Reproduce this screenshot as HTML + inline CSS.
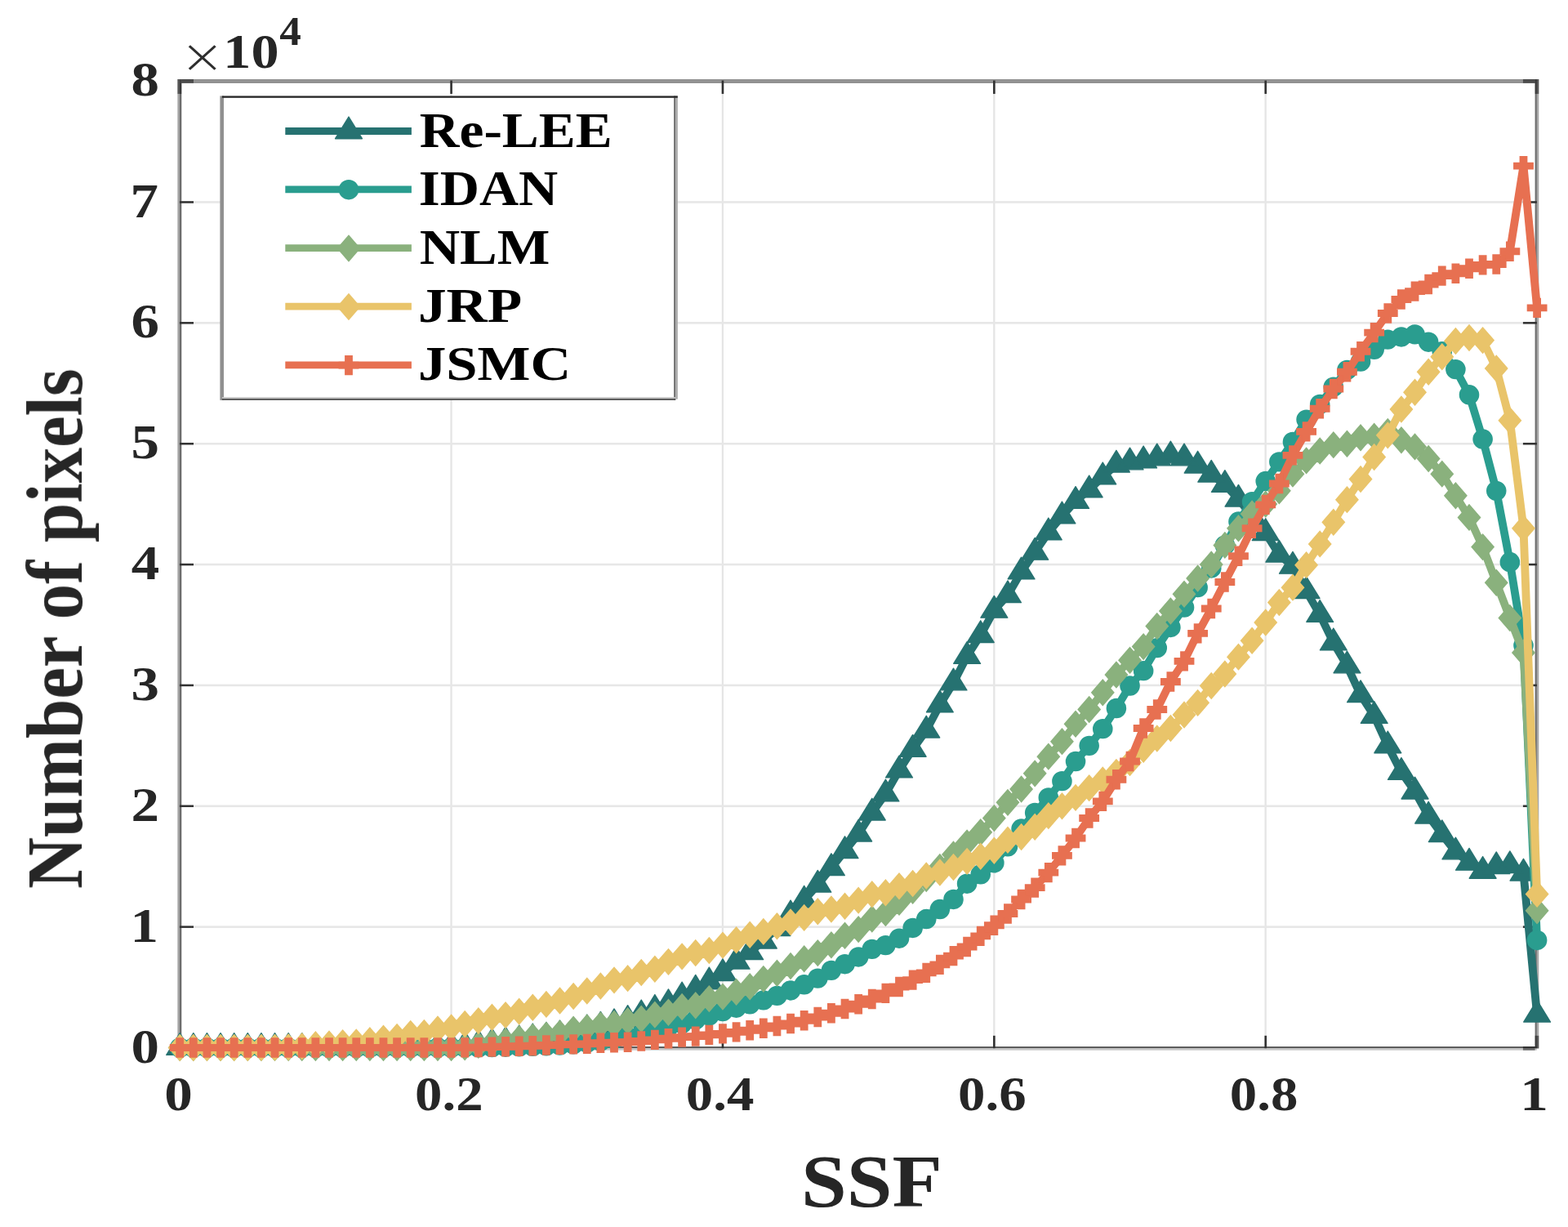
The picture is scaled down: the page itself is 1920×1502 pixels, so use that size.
<!DOCTYPE html>
<html lang="en"><head><meta charset="utf-8"><title>SSF histogram</title>
<style>html,body{margin:0;padding:0;background:#fff}body{width:1920px;height:1502px;overflow:hidden}svg{display:block}text{font-family:"Liberation Serif","DejaVu Serif",serif;font-weight:bold}.x{font-family:"DejaVu Sans Light","DejaVu Sans","Liberation Sans",sans-serif;font-weight:200}</style>
</head><body>
<svg width="1920" height="1502" viewBox="0 0 1920 1502" role="img" aria-label="Histogram of SSF values for five despeckling methods">
<rect width="1920" height="1502" fill="#fff"/>
<defs><filter id="soft" x="0" y="0" width="1920" height="1502" filterUnits="userSpaceOnUse"><feGaussianBlur stdDeviation="0.55"/></filter></defs>
<g filter="url(#soft)">
<g><rect x="551.38" y="99.6" width="2.3" height="1182.9" fill="#e5e5e5"/><rect x="883.76" y="99.6" width="2.3" height="1182.9" fill="#e5e5e5"/><rect x="1216.14" y="99.6" width="2.3" height="1182.9" fill="#e5e5e5"/><rect x="1548.52" y="99.6" width="2.3" height="1182.9" fill="#e5e5e5"/><rect x="220.2" y="1133.34" width="1661.9" height="2.6" fill="#e7e7e7"/><rect x="220.2" y="985.48" width="1661.9" height="2.6" fill="#e7e7e7"/><rect x="220.2" y="837.61" width="1661.9" height="2.6" fill="#e7e7e7"/><rect x="220.2" y="689.75" width="1661.9" height="2.6" fill="#e7e7e7"/><rect x="220.2" y="541.89" width="1661.9" height="2.6" fill="#e7e7e7"/><rect x="220.2" y="394.02" width="1661.9" height="2.6" fill="#e7e7e7"/><rect x="220.2" y="246.16" width="1661.9" height="2.6" fill="#e7e7e7"/></g>
<g>
<rect x="217.4" y="97" width="2.5" height="1186.4" fill="#a2a2a2"/>
<rect x="219.9" y="97" width="2.4" height="1186.4" fill="#6c6c6c"/>
<rect x="219.9" y="97" width="1662" height="2.4" fill="#8e8e8e"/>
<rect x="219.9" y="99.4" width="1662" height="2.3" fill="#808080"/>
<rect x="1879.6" y="97" width="2.3" height="1186.4" fill="#6c6c6c"/>
<rect x="1881.9" y="97" width="2.4" height="1186.4" fill="#a8a8a8"/>
<rect x="217.4" y="1281.1" width="1664.5" height="2.3" fill="#565656"/>
<rect x="217.4" y="1283.4" width="1664.5" height="2.3" fill="#c6c6c6"/>
</g>
<g><rect x="551.28" y="1267.8" width="2.6" height="15.4" fill="#303030"/><rect x="551.28" y="98.6" width="2.6" height="16.3" fill="#303030"/><rect x="883.66" y="1267.8" width="2.6" height="15.4" fill="#303030"/><rect x="883.66" y="98.6" width="2.6" height="16.3" fill="#303030"/><rect x="1216.04" y="1267.8" width="2.6" height="15.4" fill="#303030"/><rect x="1216.04" y="98.6" width="2.6" height="16.3" fill="#303030"/><rect x="1548.42" y="1267.8" width="2.6" height="15.4" fill="#303030"/><rect x="1548.42" y="98.6" width="2.6" height="16.3" fill="#303030"/><rect x="219.9" y="1133.39" width="17.1" height="2.5" fill="#303030"/><rect x="1864.9" y="1133.39" width="17" height="2.5" fill="#303030"/><rect x="219.9" y="985.52" width="17.1" height="2.5" fill="#303030"/><rect x="1864.9" y="985.52" width="17" height="2.5" fill="#303030"/><rect x="219.9" y="837.66" width="17.1" height="2.5" fill="#303030"/><rect x="1864.9" y="837.66" width="17" height="2.5" fill="#303030"/><rect x="219.9" y="689.8" width="17.1" height="2.5" fill="#303030"/><rect x="1864.9" y="689.8" width="17" height="2.5" fill="#303030"/><rect x="219.9" y="541.94" width="17.1" height="2.5" fill="#303030"/><rect x="1864.9" y="541.94" width="17" height="2.5" fill="#303030"/><rect x="219.9" y="394.07" width="17.1" height="2.5" fill="#303030"/><rect x="1864.9" y="394.07" width="17" height="2.5" fill="#303030"/><rect x="219.9" y="246.21" width="17.1" height="2.5" fill="#303030"/><rect x="1864.9" y="246.21" width="17" height="2.5" fill="#303030"/><rect x="217.4" y="97" width="4.9" height="17.9" fill="#000" fill-opacity="0.48"/><rect x="217.4" y="1267.8" width="4.9" height="15.6" fill="#000" fill-opacity="0.48"/><rect x="1879.6" y="97" width="4.7" height="17.9" fill="#000" fill-opacity="0.48"/><rect x="1879.6" y="1267.8" width="4.7" height="15.6" fill="#000" fill-opacity="0.48"/><rect x="222.3" y="97" width="14.7" height="4.7" fill="#000" fill-opacity="0.48"/><rect x="1864.9" y="97" width="14.7" height="4.7" fill="#000" fill-opacity="0.48"/><rect x="222.3" y="1281.1" width="14.7" height="4.6" fill="#000" fill-opacity="0.48"/><rect x="1864.9" y="1281.1" width="14.7" height="4.6" fill="#000" fill-opacity="0.48"/></g>
<g><polyline transform="scale(1.12 1)" points="196.61,1282.5 211.45,1282.5 226.28,1282.5 241.12,1282.5 255.96,1282.5 270.8,1282.5 285.64,1282.5 300.48,1282.5 315.31,1282.5 330.15,1282.5 344.99,1282.5 359.83,1282.49 374.67,1282.45 389.51,1282.38 404.34,1282.28 419.18,1282.15 434.02,1282 448.86,1281.8 463.7,1281.58 478.54,1281.32 493.37,1281.02 508.21,1280.1 523.05,1278.4 537.89,1276.59 552.73,1274.81 567.57,1272.89 582.41,1270.82 597.24,1269.19 612.08,1266.97 626.92,1263.28 641.76,1259.88 656.6,1256.18 671.44,1252.78 686.27,1248.42 701.11,1241.84 715.95,1235.33 730.79,1228.68 745.63,1219.95 760.47,1211.23 775.3,1201.91 790.14,1191.56 804.98,1177.22 819.82,1165.69 834.66,1152.09 849.5,1136.56 864.33,1119.85 879.17,1102.11 894.01,1083.18 908.85,1062.63 923.69,1041.63 938.53,1021.08 953.37,995.06 968.2,971.99 983.04,943.01 997.88,917.28 1012.72,894.07 1027.56,862.87 1042.4,835.96 1057.23,803.43 1072.07,777.55 1086.91,747.24 1101.75,728.75 1116.59,699.92 1131.43,676.26 1146.26,651.87 1161.1,631.9 1175.94,613.42 1190.78,599.82 1205.62,583.85 1220.46,569.06 1235.29,565.96 1250.13,563.89 1264.97,560.93 1279.81,557.97 1294.65,560.93 1309.49,570.1 1324.32,581.19 1339.16,593.46 1354,611.2 1368.84,631.9 1383.68,652.61 1398.52,679.22 1413.36,693.27 1428.19,723.58 1443.03,752.41 1457.87,786.86 1472.71,814.96 1487.55,850.74 1502.39,876.47 1517.22,912.84 1532.06,945.37 1546.9,969.03 1561.74,999.05 1576.58,1021.67 1591.42,1042.96 1606.25,1056.27 1621.09,1066.33 1635.93,1060.71 1650.77,1059.67 1665.61,1069.13 1680.45,1242.13" fill="none" stroke="#287271" stroke-width="8.8" stroke-linejoin="round" stroke-linecap="butt"/><path d="M220.2 1264.7L236.6 1291.4L203.8 1291.4ZM236.82 1264.7L253.22 1291.4L220.42 1291.4ZM253.44 1264.7L269.84 1291.4L237.04 1291.4ZM270.06 1264.7L286.46 1291.4L253.66 1291.4ZM286.68 1264.7L303.08 1291.4L270.28 1291.4ZM303.29 1264.7L319.69 1291.4L286.89 1291.4ZM319.91 1264.7L336.31 1291.4L303.51 1291.4ZM336.53 1264.7L352.93 1291.4L320.13 1291.4ZM353.15 1264.7L369.55 1291.4L336.75 1291.4ZM369.77 1264.7L386.17 1291.4L353.37 1291.4ZM386.39 1264.7L402.79 1291.4L369.99 1291.4ZM403.01 1264.69L419.41 1291.39L386.61 1291.39ZM419.63 1264.65L436.03 1291.35L403.23 1291.35ZM436.25 1264.58L452.65 1291.28L419.85 1291.28ZM452.87 1264.48L469.27 1291.18L436.47 1291.18ZM469.48 1264.35L485.88 1291.05L453.08 1291.05ZM486.1 1264.2L502.5 1290.9L469.7 1290.9ZM502.72 1264L519.12 1290.7L486.32 1290.7ZM519.34 1263.78L535.74 1290.48L502.94 1290.48ZM535.96 1263.52L552.36 1290.22L519.56 1290.22ZM552.58 1263.22L568.98 1289.92L536.18 1289.92ZM569.2 1262.3L585.6 1289L552.8 1289ZM585.82 1260.6L602.22 1287.3L569.42 1287.3ZM602.44 1258.79L618.84 1285.49L586.04 1285.49ZM619.06 1257.01L635.46 1283.71L602.66 1283.71ZM635.67 1255.09L652.07 1281.79L619.27 1281.79ZM652.29 1253.02L668.69 1279.72L635.89 1279.72ZM668.91 1251.39L685.31 1278.09L652.51 1278.09ZM685.53 1249.17L701.93 1275.87L669.13 1275.87ZM702.15 1245.48L718.55 1272.18L685.75 1272.18ZM718.77 1242.08L735.17 1268.78L702.37 1268.78ZM735.39 1238.38L751.79 1265.08L718.99 1265.08ZM752.01 1234.98L768.41 1261.68L735.61 1261.68ZM768.63 1230.62L785.03 1257.32L752.23 1257.32ZM785.25 1224.04L801.65 1250.74L768.85 1250.74ZM801.87 1217.53L818.26 1244.23L785.47 1244.23ZM818.48 1210.88L834.88 1237.58L802.08 1237.58ZM835.1 1202.15L851.5 1228.85L818.7 1228.85ZM851.72 1193.43L868.12 1220.13L835.32 1220.13ZM868.34 1184.11L884.74 1210.81L851.94 1210.81ZM884.96 1173.76L901.36 1200.46L868.56 1200.46ZM901.58 1159.42L917.98 1186.12L885.18 1186.12ZM918.2 1147.89L934.6 1174.59L901.8 1174.59ZM934.82 1134.29L951.22 1160.99L918.42 1160.99ZM951.44 1118.76L967.84 1145.46L935.04 1145.46ZM968.05 1102.05L984.45 1128.75L951.65 1128.75ZM984.67 1084.31L1001.07 1111.01L968.27 1111.01ZM1001.29 1065.38L1017.69 1092.08L984.89 1092.08ZM1017.91 1044.83L1034.31 1071.53L1001.51 1071.53ZM1034.53 1023.83L1050.93 1050.53L1018.13 1050.53ZM1051.15 1003.28L1067.55 1029.98L1034.75 1029.98ZM1067.77 977.26L1084.17 1003.96L1051.37 1003.96ZM1084.39 954.19L1100.79 980.89L1067.99 980.89ZM1101.01 925.21L1117.41 951.91L1084.61 951.91ZM1117.63 899.48L1134.03 926.18L1101.23 926.18ZM1134.24 876.27L1150.64 902.97L1117.84 902.97ZM1150.86 845.07L1167.26 871.77L1134.46 871.77ZM1167.48 818.16L1183.88 844.86L1151.08 844.86ZM1184.1 785.63L1200.5 812.33L1167.7 812.33ZM1200.72 759.75L1217.12 786.45L1184.32 786.45ZM1217.34 729.44L1233.74 756.14L1200.94 756.14ZM1233.96 710.95L1250.36 737.65L1217.56 737.65ZM1250.58 682.12L1266.98 708.82L1234.18 708.82ZM1267.2 658.46L1283.6 685.16L1250.8 685.16ZM1283.82 634.07L1300.22 660.77L1267.42 660.77ZM1300.43 614.1L1316.84 640.8L1284.03 640.8ZM1317.05 595.62L1333.45 622.32L1300.65 622.32ZM1333.67 582.02L1350.07 608.72L1317.27 608.72ZM1350.29 566.05L1366.69 592.75L1333.89 592.75ZM1366.91 551.26L1383.31 577.96L1350.51 577.96ZM1383.53 548.16L1399.93 574.86L1367.13 574.86ZM1400.15 546.09L1416.55 572.79L1383.75 572.79ZM1416.77 543.13L1433.17 569.83L1400.37 569.83ZM1433.39 540.17L1449.79 566.87L1416.99 566.87ZM1450.01 543.13L1466.41 569.83L1433.61 569.83ZM1466.62 552.3L1483.03 579L1450.22 579ZM1483.24 563.39L1499.64 590.09L1466.84 590.09ZM1499.86 575.66L1516.26 602.36L1483.46 602.36ZM1516.48 593.4L1532.88 620.1L1500.08 620.1ZM1533.1 614.1L1549.5 640.8L1516.7 640.8ZM1549.72 634.81L1566.12 661.51L1533.32 661.51ZM1566.34 661.42L1582.74 688.12L1549.94 688.12ZM1582.96 675.47L1599.36 702.17L1566.56 702.17ZM1599.58 705.78L1615.98 732.48L1583.18 732.48ZM1616.2 734.61L1632.6 761.31L1599.8 761.31ZM1632.81 769.06L1649.21 795.76L1616.41 795.76ZM1649.43 797.16L1665.83 823.86L1633.03 823.86ZM1666.05 832.94L1682.45 859.64L1649.65 859.64ZM1682.67 858.67L1699.07 885.37L1666.27 885.37ZM1699.29 895.04L1715.69 921.74L1682.89 921.74ZM1715.91 927.57L1732.31 954.27L1699.51 954.27ZM1732.53 951.23L1748.93 977.93L1716.13 977.93ZM1749.15 981.25L1765.55 1007.95L1732.75 1007.95ZM1765.77 1003.87L1782.17 1030.57L1749.37 1030.57ZM1782.39 1025.16L1798.79 1051.86L1765.99 1051.86ZM1799 1038.47L1815.4 1065.17L1782.6 1065.17ZM1815.62 1048.53L1832.02 1075.23L1799.22 1075.23ZM1832.24 1042.91L1848.64 1069.61L1815.84 1069.61ZM1848.86 1041.87L1865.26 1068.57L1832.46 1068.57ZM1865.48 1051.33L1881.88 1078.03L1849.08 1078.03ZM1882.1 1224.33L1898.5 1251.03L1865.7 1251.03Z" fill="#287271" stroke="#287271" stroke-width="1.4" stroke-linejoin="round"/></g>
<g><polyline transform="scale(1.12 1)" points="196.61,1282.5 211.45,1282.5 226.28,1282.5 241.12,1282.5 255.96,1282.5 270.8,1282.5 285.64,1282.5 300.48,1282.5 315.31,1282.5 330.15,1282.5 344.99,1282.5 359.83,1282.5 374.67,1282.5 389.51,1282.5 404.34,1282.5 419.18,1282.5 434.02,1282.5 448.86,1282.5 463.7,1282.5 478.54,1282.5 493.37,1282.5 508.21,1282.43 523.05,1282.25 537.89,1281.99 552.73,1281.66 567.57,1281.32 582.41,1280.89 597.24,1280.31 612.08,1279.54 626.92,1278.29 641.76,1276.59 656.6,1274.56 671.44,1272.15 686.27,1269.47 701.11,1266.24 715.95,1261.8 730.79,1257.36 745.63,1253.01 760.47,1248.49 775.3,1243.32 790.14,1238.14 804.98,1233.71 819.82,1229.27 834.66,1224.37 849.5,1218.92 864.33,1212.46 879.17,1205.32 894.01,1197.63 908.85,1187.87 923.69,1180.18 938.53,1171.46 953.37,1161.84 968.2,1157.11 983.04,1148.68 997.88,1135.97 1012.72,1125.03 1027.56,1113.05 1042.4,1100.92 1057.23,1081.7 1072.07,1070.32 1086.91,1056.27 1101.75,1036.31 1116.59,1014.57 1131.43,994.91 1146.26,976.42 1161.1,956.17 1175.94,932.07 1190.78,912.84 1205.62,892.14 1220.46,867.01 1235.29,839.5 1250.13,821.17 1264.97,793.08 1279.81,767.94 1294.65,743.54 1309.49,719.14 1324.32,695.49 1339.16,667.39 1354,638.56 1368.84,614.16 1383.68,589.02 1398.52,565.37 1413.36,540.97 1428.19,513.61 1443.03,494.84 1457.87,473.69 1472.71,452.99 1487.55,442.64 1502.39,427.85 1517.22,415.58 1532.06,412.48 1546.9,409.37 1561.74,418.69 1576.58,430.22 1591.42,452.1 1606.25,483.3 1621.09,537.57 1635.93,600.85 1650.77,688.09 1665.61,790.12 1680.45,1150.9" fill="none" stroke="#2A9D8F" stroke-width="8.8" stroke-linejoin="round" stroke-linecap="butt"/><path d="M207.9 1282.5a12.3 12.2 0 1 0 24.6 0a12.3 12.2 0 1 0 -24.6 0ZM224.52 1282.5a12.3 12.2 0 1 0 24.6 0a12.3 12.2 0 1 0 -24.6 0ZM241.14 1282.5a12.3 12.2 0 1 0 24.6 0a12.3 12.2 0 1 0 -24.6 0ZM257.76 1282.5a12.3 12.2 0 1 0 24.6 0a12.3 12.2 0 1 0 -24.6 0ZM274.38 1282.5a12.3 12.2 0 1 0 24.6 0a12.3 12.2 0 1 0 -24.6 0ZM290.99 1282.5a12.3 12.2 0 1 0 24.6 0a12.3 12.2 0 1 0 -24.6 0ZM307.61 1282.5a12.3 12.2 0 1 0 24.6 0a12.3 12.2 0 1 0 -24.6 0ZM324.23 1282.5a12.3 12.2 0 1 0 24.6 0a12.3 12.2 0 1 0 -24.6 0ZM340.85 1282.5a12.3 12.2 0 1 0 24.6 0a12.3 12.2 0 1 0 -24.6 0ZM357.47 1282.5a12.3 12.2 0 1 0 24.6 0a12.3 12.2 0 1 0 -24.6 0ZM374.09 1282.5a12.3 12.2 0 1 0 24.6 0a12.3 12.2 0 1 0 -24.6 0ZM390.71 1282.5a12.3 12.2 0 1 0 24.6 0a12.3 12.2 0 1 0 -24.6 0ZM407.33 1282.5a12.3 12.2 0 1 0 24.6 0a12.3 12.2 0 1 0 -24.6 0ZM423.95 1282.5a12.3 12.2 0 1 0 24.6 0a12.3 12.2 0 1 0 -24.6 0ZM440.57 1282.5a12.3 12.2 0 1 0 24.6 0a12.3 12.2 0 1 0 -24.6 0ZM457.18 1282.5a12.3 12.2 0 1 0 24.6 0a12.3 12.2 0 1 0 -24.6 0ZM473.8 1282.5a12.3 12.2 0 1 0 24.6 0a12.3 12.2 0 1 0 -24.6 0ZM490.42 1282.5a12.3 12.2 0 1 0 24.6 0a12.3 12.2 0 1 0 -24.6 0ZM507.04 1282.5a12.3 12.2 0 1 0 24.6 0a12.3 12.2 0 1 0 -24.6 0ZM523.66 1282.5a12.3 12.2 0 1 0 24.6 0a12.3 12.2 0 1 0 -24.6 0ZM540.28 1282.5a12.3 12.2 0 1 0 24.6 0a12.3 12.2 0 1 0 -24.6 0ZM556.9 1282.43a12.3 12.2 0 1 0 24.6 0a12.3 12.2 0 1 0 -24.6 0ZM573.52 1282.25a12.3 12.2 0 1 0 24.6 0a12.3 12.2 0 1 0 -24.6 0ZM590.14 1281.99a12.3 12.2 0 1 0 24.6 0a12.3 12.2 0 1 0 -24.6 0ZM606.76 1281.66a12.3 12.2 0 1 0 24.6 0a12.3 12.2 0 1 0 -24.6 0ZM623.38 1281.32a12.3 12.2 0 1 0 24.6 0a12.3 12.2 0 1 0 -24.6 0ZM639.99 1280.89a12.3 12.2 0 1 0 24.6 0a12.3 12.2 0 1 0 -24.6 0ZM656.61 1280.31a12.3 12.2 0 1 0 24.6 0a12.3 12.2 0 1 0 -24.6 0ZM673.23 1279.54a12.3 12.2 0 1 0 24.6 0a12.3 12.2 0 1 0 -24.6 0ZM689.85 1278.29a12.3 12.2 0 1 0 24.6 0a12.3 12.2 0 1 0 -24.6 0ZM706.47 1276.59a12.3 12.2 0 1 0 24.6 0a12.3 12.2 0 1 0 -24.6 0ZM723.09 1274.56a12.3 12.2 0 1 0 24.6 0a12.3 12.2 0 1 0 -24.6 0ZM739.71 1272.15a12.3 12.2 0 1 0 24.6 0a12.3 12.2 0 1 0 -24.6 0ZM756.33 1269.47a12.3 12.2 0 1 0 24.6 0a12.3 12.2 0 1 0 -24.6 0ZM772.95 1266.24a12.3 12.2 0 1 0 24.6 0a12.3 12.2 0 1 0 -24.6 0ZM789.57 1261.8a12.3 12.2 0 1 0 24.6 0a12.3 12.2 0 1 0 -24.6 0ZM806.18 1257.36a12.3 12.2 0 1 0 24.6 0a12.3 12.2 0 1 0 -24.6 0ZM822.8 1253.01a12.3 12.2 0 1 0 24.6 0a12.3 12.2 0 1 0 -24.6 0ZM839.42 1248.49a12.3 12.2 0 1 0 24.6 0a12.3 12.2 0 1 0 -24.6 0ZM856.04 1243.32a12.3 12.2 0 1 0 24.6 0a12.3 12.2 0 1 0 -24.6 0ZM872.66 1238.14a12.3 12.2 0 1 0 24.6 0a12.3 12.2 0 1 0 -24.6 0ZM889.28 1233.71a12.3 12.2 0 1 0 24.6 0a12.3 12.2 0 1 0 -24.6 0ZM905.9 1229.27a12.3 12.2 0 1 0 24.6 0a12.3 12.2 0 1 0 -24.6 0ZM922.52 1224.37a12.3 12.2 0 1 0 24.6 0a12.3 12.2 0 1 0 -24.6 0ZM939.14 1218.92a12.3 12.2 0 1 0 24.6 0a12.3 12.2 0 1 0 -24.6 0ZM955.75 1212.46a12.3 12.2 0 1 0 24.6 0a12.3 12.2 0 1 0 -24.6 0ZM972.37 1205.32a12.3 12.2 0 1 0 24.6 0a12.3 12.2 0 1 0 -24.6 0ZM988.99 1197.63a12.3 12.2 0 1 0 24.6 0a12.3 12.2 0 1 0 -24.6 0ZM1005.61 1187.87a12.3 12.2 0 1 0 24.6 0a12.3 12.2 0 1 0 -24.6 0ZM1022.23 1180.18a12.3 12.2 0 1 0 24.6 0a12.3 12.2 0 1 0 -24.6 0ZM1038.85 1171.46a12.3 12.2 0 1 0 24.6 0a12.3 12.2 0 1 0 -24.6 0ZM1055.47 1161.84a12.3 12.2 0 1 0 24.6 0a12.3 12.2 0 1 0 -24.6 0ZM1072.09 1157.11a12.3 12.2 0 1 0 24.6 0a12.3 12.2 0 1 0 -24.6 0ZM1088.71 1148.68a12.3 12.2 0 1 0 24.6 0a12.3 12.2 0 1 0 -24.6 0ZM1105.33 1135.97a12.3 12.2 0 1 0 24.6 0a12.3 12.2 0 1 0 -24.6 0ZM1121.94 1125.03a12.3 12.2 0 1 0 24.6 0a12.3 12.2 0 1 0 -24.6 0ZM1138.56 1113.05a12.3 12.2 0 1 0 24.6 0a12.3 12.2 0 1 0 -24.6 0ZM1155.18 1100.92a12.3 12.2 0 1 0 24.6 0a12.3 12.2 0 1 0 -24.6 0ZM1171.8 1081.7a12.3 12.2 0 1 0 24.6 0a12.3 12.2 0 1 0 -24.6 0ZM1188.42 1070.32a12.3 12.2 0 1 0 24.6 0a12.3 12.2 0 1 0 -24.6 0ZM1205.04 1056.27a12.3 12.2 0 1 0 24.6 0a12.3 12.2 0 1 0 -24.6 0ZM1221.66 1036.31a12.3 12.2 0 1 0 24.6 0a12.3 12.2 0 1 0 -24.6 0ZM1238.28 1014.57a12.3 12.2 0 1 0 24.6 0a12.3 12.2 0 1 0 -24.6 0ZM1254.9 994.91a12.3 12.2 0 1 0 24.6 0a12.3 12.2 0 1 0 -24.6 0ZM1271.52 976.42a12.3 12.2 0 1 0 24.6 0a12.3 12.2 0 1 0 -24.6 0ZM1288.13 956.17a12.3 12.2 0 1 0 24.6 0a12.3 12.2 0 1 0 -24.6 0ZM1304.75 932.07a12.3 12.2 0 1 0 24.6 0a12.3 12.2 0 1 0 -24.6 0ZM1321.37 912.84a12.3 12.2 0 1 0 24.6 0a12.3 12.2 0 1 0 -24.6 0ZM1337.99 892.14a12.3 12.2 0 1 0 24.6 0a12.3 12.2 0 1 0 -24.6 0ZM1354.61 867.01a12.3 12.2 0 1 0 24.6 0a12.3 12.2 0 1 0 -24.6 0ZM1371.23 839.5a12.3 12.2 0 1 0 24.6 0a12.3 12.2 0 1 0 -24.6 0ZM1387.85 821.17a12.3 12.2 0 1 0 24.6 0a12.3 12.2 0 1 0 -24.6 0ZM1404.47 793.08a12.3 12.2 0 1 0 24.6 0a12.3 12.2 0 1 0 -24.6 0ZM1421.09 767.94a12.3 12.2 0 1 0 24.6 0a12.3 12.2 0 1 0 -24.6 0ZM1437.71 743.54a12.3 12.2 0 1 0 24.6 0a12.3 12.2 0 1 0 -24.6 0ZM1454.33 719.14a12.3 12.2 0 1 0 24.6 0a12.3 12.2 0 1 0 -24.6 0ZM1470.94 695.49a12.3 12.2 0 1 0 24.6 0a12.3 12.2 0 1 0 -24.6 0ZM1487.56 667.39a12.3 12.2 0 1 0 24.6 0a12.3 12.2 0 1 0 -24.6 0ZM1504.18 638.56a12.3 12.2 0 1 0 24.6 0a12.3 12.2 0 1 0 -24.6 0ZM1520.8 614.16a12.3 12.2 0 1 0 24.6 0a12.3 12.2 0 1 0 -24.6 0ZM1537.42 589.02a12.3 12.2 0 1 0 24.6 0a12.3 12.2 0 1 0 -24.6 0ZM1554.04 565.37a12.3 12.2 0 1 0 24.6 0a12.3 12.2 0 1 0 -24.6 0ZM1570.66 540.97a12.3 12.2 0 1 0 24.6 0a12.3 12.2 0 1 0 -24.6 0ZM1587.28 513.61a12.3 12.2 0 1 0 24.6 0a12.3 12.2 0 1 0 -24.6 0ZM1603.9 494.84a12.3 12.2 0 1 0 24.6 0a12.3 12.2 0 1 0 -24.6 0ZM1620.51 473.69a12.3 12.2 0 1 0 24.6 0a12.3 12.2 0 1 0 -24.6 0ZM1637.13 452.99a12.3 12.2 0 1 0 24.6 0a12.3 12.2 0 1 0 -24.6 0ZM1653.75 442.64a12.3 12.2 0 1 0 24.6 0a12.3 12.2 0 1 0 -24.6 0ZM1670.37 427.85a12.3 12.2 0 1 0 24.6 0a12.3 12.2 0 1 0 -24.6 0ZM1686.99 415.58a12.3 12.2 0 1 0 24.6 0a12.3 12.2 0 1 0 -24.6 0ZM1703.61 412.48a12.3 12.2 0 1 0 24.6 0a12.3 12.2 0 1 0 -24.6 0ZM1720.23 409.37a12.3 12.2 0 1 0 24.6 0a12.3 12.2 0 1 0 -24.6 0ZM1736.85 418.69a12.3 12.2 0 1 0 24.6 0a12.3 12.2 0 1 0 -24.6 0ZM1753.47 430.22a12.3 12.2 0 1 0 24.6 0a12.3 12.2 0 1 0 -24.6 0ZM1770.09 452.1a12.3 12.2 0 1 0 24.6 0a12.3 12.2 0 1 0 -24.6 0ZM1786.7 483.3a12.3 12.2 0 1 0 24.6 0a12.3 12.2 0 1 0 -24.6 0ZM1803.32 537.57a12.3 12.2 0 1 0 24.6 0a12.3 12.2 0 1 0 -24.6 0ZM1819.94 600.85a12.3 12.2 0 1 0 24.6 0a12.3 12.2 0 1 0 -24.6 0ZM1836.56 688.09a12.3 12.2 0 1 0 24.6 0a12.3 12.2 0 1 0 -24.6 0ZM1853.18 790.12a12.3 12.2 0 1 0 24.6 0a12.3 12.2 0 1 0 -24.6 0ZM1869.8 1150.9a12.3 12.2 0 1 0 24.6 0a12.3 12.2 0 1 0 -24.6 0Z" fill="#2A9D8F"/></g>
<g><polyline transform="scale(1.12 1)" points="196.61,1282.5 211.45,1282.5 226.28,1282.5 241.12,1282.5 255.96,1282.5 270.8,1282.5 285.64,1282.5 300.48,1282.5 315.31,1282.5 330.15,1282.5 344.99,1282.5 359.83,1282.5 374.67,1282.5 389.51,1282.5 404.34,1282.5 419.18,1282.5 434.02,1282.5 448.86,1282.5 463.7,1282.5 478.54,1282.5 493.37,1282.5 508.21,1281.76 523.05,1279.25 537.89,1276.59 552.73,1274.81 567.57,1271.56 582.41,1269.34 597.24,1267.27 612.08,1265.05 626.92,1260.17 641.76,1257.95 656.6,1254.85 671.44,1253.22 686.27,1249.67 701.11,1247.31 715.95,1242.13 730.79,1239.18 745.63,1232.52 760.47,1230.75 775.3,1222.62 790.14,1220.1 804.98,1214.19 819.82,1207.68 834.66,1198.37 849.5,1191.27 864.33,1182.54 879.17,1173.75 894.01,1166.58 908.85,1156.82 923.69,1145.28 938.53,1137.59 953.37,1125.03 968.2,1117.63 983.04,1104.33 997.88,1090.28 1012.72,1075.49 1027.56,1061.45 1042.4,1045.92 1057.23,1031.87 1072.07,1018.71 1086.91,1001.56 1101.75,982.34 1116.59,966.07 1131.43,946.85 1146.26,926.15 1161.1,907.67 1175.94,886.23 1190.78,868.49 1205.62,847.78 1220.46,826.05 1235.29,808.3 1250.13,791.6 1264.97,766.46 1279.81,747.98 1294.65,727.28 1309.49,708.05 1324.32,691.05 1339.16,667.39 1354,646.69 1368.84,628.95 1383.68,617.12 1398.52,600.85 1413.36,580.15 1428.19,563.89 1443.03,552.06 1457.87,544.67 1472.71,543.19 1487.55,535.79 1502.39,534.32 1517.22,528.4 1532.06,538.75 1546.9,546.88 1561.74,561.52 1576.58,580.15 1591.42,606.77 1606.25,633.38 1621.09,669.61 1635.93,713.23 1650.77,756.55 1665.61,798.99 1680.45,1114.68" fill="none" stroke="#8AB17D" stroke-width="8.8" stroke-linejoin="round" stroke-linecap="butt"/><path d="M220.2 1265.8L234.7 1282.5L220.2 1299.2L205.7 1282.5ZM236.82 1265.8L251.32 1282.5L236.82 1299.2L222.32 1282.5ZM253.44 1265.8L267.94 1282.5L253.44 1299.2L238.94 1282.5ZM270.06 1265.8L284.56 1282.5L270.06 1299.2L255.56 1282.5ZM286.68 1265.8L301.18 1282.5L286.68 1299.2L272.18 1282.5ZM303.29 1265.8L317.79 1282.5L303.29 1299.2L288.79 1282.5ZM319.91 1265.8L334.41 1282.5L319.91 1299.2L305.41 1282.5ZM336.53 1265.8L351.03 1282.5L336.53 1299.2L322.03 1282.5ZM353.15 1265.8L367.65 1282.5L353.15 1299.2L338.65 1282.5ZM369.77 1265.8L384.27 1282.5L369.77 1299.2L355.27 1282.5ZM386.39 1265.8L400.89 1282.5L386.39 1299.2L371.89 1282.5ZM403.01 1265.8L417.51 1282.5L403.01 1299.2L388.51 1282.5ZM419.63 1265.8L434.13 1282.5L419.63 1299.2L405.13 1282.5ZM436.25 1265.8L450.75 1282.5L436.25 1299.2L421.75 1282.5ZM452.87 1265.8L467.37 1282.5L452.87 1299.2L438.37 1282.5ZM469.48 1265.8L483.98 1282.5L469.48 1299.2L454.98 1282.5ZM486.1 1265.8L500.6 1282.5L486.1 1299.2L471.6 1282.5ZM502.72 1265.8L517.22 1282.5L502.72 1299.2L488.22 1282.5ZM519.34 1265.8L533.84 1282.5L519.34 1299.2L504.84 1282.5ZM535.96 1265.8L550.46 1282.5L535.96 1299.2L521.46 1282.5ZM552.58 1265.8L567.08 1282.5L552.58 1299.2L538.08 1282.5ZM569.2 1265.06L583.7 1281.76L569.2 1298.46L554.7 1281.76ZM585.82 1262.55L600.32 1279.25L585.82 1295.95L571.32 1279.25ZM602.44 1259.89L616.94 1276.59L602.44 1293.29L587.94 1276.59ZM619.06 1258.11L633.56 1274.81L619.06 1291.51L604.56 1274.81ZM635.67 1254.86L650.17 1271.56L635.67 1288.26L621.17 1271.56ZM652.29 1252.64L666.79 1269.34L652.29 1286.04L637.79 1269.34ZM668.91 1250.57L683.41 1267.27L668.91 1283.97L654.41 1267.27ZM685.53 1248.35L700.03 1265.05L685.53 1281.75L671.03 1265.05ZM702.15 1243.47L716.65 1260.17L702.15 1276.87L687.65 1260.17ZM718.77 1241.25L733.27 1257.95L718.77 1274.65L704.27 1257.95ZM735.39 1238.15L749.89 1254.85L735.39 1271.55L720.89 1254.85ZM752.01 1236.52L766.51 1253.22L752.01 1269.92L737.51 1253.22ZM768.63 1232.97L783.13 1249.67L768.63 1266.37L754.13 1249.67ZM785.25 1230.61L799.75 1247.31L785.25 1264.01L770.75 1247.31ZM801.87 1225.43L816.37 1242.13L801.87 1258.83L787.37 1242.13ZM818.48 1222.48L832.98 1239.18L818.48 1255.88L803.98 1239.18ZM835.1 1215.82L849.6 1232.52L835.1 1249.22L820.6 1232.52ZM851.72 1214.05L866.22 1230.75L851.72 1247.45L837.22 1230.75ZM868.34 1205.92L882.84 1222.62L868.34 1239.32L853.84 1222.62ZM884.96 1203.4L899.46 1220.1L884.96 1236.8L870.46 1220.1ZM901.58 1197.49L916.08 1214.19L901.58 1230.89L887.08 1214.19ZM918.2 1190.98L932.7 1207.68L918.2 1224.38L903.7 1207.68ZM934.82 1181.67L949.32 1198.37L934.82 1215.07L920.32 1198.37ZM951.44 1174.57L965.94 1191.27L951.44 1207.97L936.94 1191.27ZM968.05 1165.84L982.55 1182.54L968.05 1199.24L953.55 1182.54ZM984.67 1157.05L999.17 1173.75L984.67 1190.45L970.17 1173.75ZM1001.29 1149.88L1015.79 1166.58L1001.29 1183.28L986.79 1166.58ZM1017.91 1140.12L1032.41 1156.82L1017.91 1173.52L1003.41 1156.82ZM1034.53 1128.58L1049.03 1145.28L1034.53 1161.98L1020.03 1145.28ZM1051.15 1120.89L1065.65 1137.59L1051.15 1154.29L1036.65 1137.59ZM1067.77 1108.33L1082.27 1125.03L1067.77 1141.73L1053.27 1125.03ZM1084.39 1100.93L1098.89 1117.63L1084.39 1134.33L1069.89 1117.63ZM1101.01 1087.63L1115.51 1104.33L1101.01 1121.03L1086.51 1104.33ZM1117.63 1073.58L1132.13 1090.28L1117.63 1106.98L1103.13 1090.28ZM1134.24 1058.79L1148.74 1075.49L1134.24 1092.19L1119.74 1075.49ZM1150.86 1044.75L1165.36 1061.45L1150.86 1078.15L1136.36 1061.45ZM1167.48 1029.22L1181.98 1045.92L1167.48 1062.62L1152.98 1045.92ZM1184.1 1015.17L1198.6 1031.87L1184.1 1048.57L1169.6 1031.87ZM1200.72 1002.01L1215.22 1018.71L1200.72 1035.41L1186.22 1018.71ZM1217.34 984.86L1231.84 1001.56L1217.34 1018.26L1202.84 1001.56ZM1233.96 965.64L1248.46 982.34L1233.96 999.04L1219.46 982.34ZM1250.58 949.37L1265.08 966.07L1250.58 982.77L1236.08 966.07ZM1267.2 930.15L1281.7 946.85L1267.2 963.55L1252.7 946.85ZM1283.82 909.45L1298.32 926.15L1283.82 942.85L1269.32 926.15ZM1300.43 890.97L1314.93 907.67L1300.43 924.37L1285.93 907.67ZM1317.05 869.53L1331.55 886.23L1317.05 902.93L1302.55 886.23ZM1333.67 851.78L1348.17 868.49L1333.67 885.19L1319.17 868.49ZM1350.29 831.08L1364.79 847.78L1350.29 864.48L1335.79 847.78ZM1366.91 809.35L1381.41 826.05L1366.91 842.75L1352.41 826.05ZM1383.53 791.6L1398.03 808.3L1383.53 825L1369.03 808.3ZM1400.15 774.9L1414.65 791.6L1400.15 808.3L1385.65 791.6ZM1416.77 749.76L1431.27 766.46L1416.77 783.16L1402.27 766.46ZM1433.39 731.28L1447.89 747.98L1433.39 764.68L1418.89 747.98ZM1450.01 710.58L1464.51 727.28L1450.01 743.98L1435.51 727.28ZM1466.62 691.35L1481.12 708.05L1466.62 724.75L1452.12 708.05ZM1483.24 674.35L1497.74 691.05L1483.24 707.75L1468.74 691.05ZM1499.86 650.69L1514.36 667.39L1499.86 684.09L1485.36 667.39ZM1516.48 629.99L1530.98 646.69L1516.48 663.39L1501.98 646.69ZM1533.1 612.25L1547.6 628.95L1533.1 645.65L1518.6 628.95ZM1549.72 600.42L1564.22 617.12L1549.72 633.82L1535.22 617.12ZM1566.34 584.15L1580.84 600.85L1566.34 617.55L1551.84 600.85ZM1582.96 563.45L1597.46 580.15L1582.96 596.85L1568.46 580.15ZM1599.58 547.19L1614.08 563.89L1599.58 580.59L1585.08 563.89ZM1616.2 535.36L1630.7 552.06L1616.2 568.76L1601.7 552.06ZM1632.81 527.97L1647.31 544.67L1632.81 561.37L1618.31 544.67ZM1649.43 526.49L1663.93 543.19L1649.43 559.89L1634.93 543.19ZM1666.05 519.09L1680.55 535.79L1666.05 552.49L1651.55 535.79ZM1682.67 517.62L1697.17 534.32L1682.67 551.02L1668.17 534.32ZM1699.29 511.7L1713.79 528.4L1699.29 545.1L1684.79 528.4ZM1715.91 522.05L1730.41 538.75L1715.91 555.45L1701.41 538.75ZM1732.53 530.18L1747.03 546.88L1732.53 563.58L1718.03 546.88ZM1749.15 544.82L1763.65 561.52L1749.15 578.22L1734.65 561.52ZM1765.77 563.45L1780.27 580.15L1765.77 596.85L1751.27 580.15ZM1782.39 590.07L1796.89 606.77L1782.39 623.47L1767.89 606.77ZM1799 616.68L1813.5 633.38L1799 650.08L1784.5 633.38ZM1815.62 652.91L1830.12 669.61L1815.62 686.31L1801.12 669.61ZM1832.24 696.53L1846.74 713.23L1832.24 729.93L1817.74 713.23ZM1848.86 739.85L1863.36 756.55L1848.86 773.25L1834.36 756.55ZM1865.48 782.29L1879.98 798.99L1865.48 815.69L1850.98 798.99ZM1882.1 1097.98L1896.6 1114.68L1882.1 1131.38L1867.6 1114.68Z" fill="#8AB17D"/></g>
<g><polyline transform="scale(1.12 1)" points="196.61,1282.5 211.45,1282.5 226.28,1282.5 241.12,1282.5 255.96,1282.5 270.8,1282.5 285.64,1282.41 300.48,1282.15 315.31,1281.76 330.15,1280.73 344.99,1278.66 359.83,1278.06 374.67,1276.59 389.51,1275.85 404.34,1273.78 419.18,1271.11 434.02,1269.34 448.86,1265.35 463.7,1264.46 478.54,1260.02 493.37,1257.88 508.21,1253.52 523.05,1249.67 537.89,1245.3 552.73,1242.58 567.57,1238.14 582.41,1233.26 597.24,1229.42 612.08,1225.06 626.92,1219.51 641.76,1213 656.6,1206.94 671.44,1199.84 686.27,1197.63 701.11,1190.53 715.95,1186.24 730.79,1177.37 745.63,1170.86 760.47,1166.43 775.3,1163.47 790.14,1157.11 804.98,1150.75 819.82,1144.25 834.66,1140.4 849.5,1133.82 864.33,1128.87 879.17,1123.4 894.01,1115.71 908.85,1113.05 923.69,1109.21 938.53,1102.11 953.37,1094.71 968.2,1092.79 983.04,1084.81 997.88,1081.55 1012.72,1071.94 1027.56,1067.95 1042.4,1061.45 1057.23,1054.35 1072.07,1048.29 1086.91,1041.19 1101.75,1028.18 1116.59,1024.48 1131.43,1012.21 1146.26,998.6 1161.1,986.77 1175.94,976.42 1190.78,964.6 1205.62,954.98 1220.46,945.37 1235.29,933.54 1250.13,917.28 1264.97,903.97 1279.81,891.55 1294.65,874.99 1309.49,860.35 1324.32,839.5 1339.16,825.01 1354,804.16 1368.84,784.2 1383.68,762.02 1398.52,737.48 1413.36,719.14 1428.19,691.64 1443.03,665.91 1457.87,639.3 1472.71,611.65 1487.55,586.51 1502.39,559.45 1517.22,532.84 1532.06,501.05 1546.9,480.2 1561.74,455.21 1576.58,436.73 1591.42,417.5 1606.25,413.51 1621.09,416.62 1635.93,451.07 1650.77,514.65 1665.61,646.69 1680.45,1094.42" fill="none" stroke="#E9C46A" stroke-width="8.8" stroke-linejoin="round" stroke-linecap="butt"/><path d="M220.2 1265.8L234.7 1282.5L220.2 1299.2L205.7 1282.5ZM236.82 1265.8L251.32 1282.5L236.82 1299.2L222.32 1282.5ZM253.44 1265.8L267.94 1282.5L253.44 1299.2L238.94 1282.5ZM270.06 1265.8L284.56 1282.5L270.06 1299.2L255.56 1282.5ZM286.68 1265.8L301.18 1282.5L286.68 1299.2L272.18 1282.5ZM303.29 1265.8L317.79 1282.5L303.29 1299.2L288.79 1282.5ZM319.91 1265.71L334.41 1282.41L319.91 1299.11L305.41 1282.41ZM336.53 1265.45L351.03 1282.15L336.53 1298.85L322.03 1282.15ZM353.15 1265.06L367.65 1281.76L353.15 1298.46L338.65 1281.76ZM369.77 1264.03L384.27 1280.73L369.77 1297.43L355.27 1280.73ZM386.39 1261.96L400.89 1278.66L386.39 1295.36L371.89 1278.66ZM403.01 1261.36L417.51 1278.06L403.01 1294.76L388.51 1278.06ZM419.63 1259.89L434.13 1276.59L419.63 1293.29L405.13 1276.59ZM436.25 1259.15L450.75 1275.85L436.25 1292.55L421.75 1275.85ZM452.87 1257.08L467.37 1273.78L452.87 1290.48L438.37 1273.78ZM469.48 1254.41L483.98 1271.11L469.48 1287.81L454.98 1271.11ZM486.1 1252.64L500.6 1269.34L486.1 1286.04L471.6 1269.34ZM502.72 1248.65L517.22 1265.35L502.72 1282.05L488.22 1265.35ZM519.34 1247.76L533.84 1264.46L519.34 1281.16L504.84 1264.46ZM535.96 1243.32L550.46 1260.02L535.96 1276.72L521.46 1260.02ZM552.58 1241.18L567.08 1257.88L552.58 1274.58L538.08 1257.88ZM569.2 1236.82L583.7 1253.52L569.2 1270.22L554.7 1253.52ZM585.82 1232.97L600.32 1249.67L585.82 1266.37L571.32 1249.67ZM602.44 1228.6L616.94 1245.3L602.44 1262L587.94 1245.3ZM619.06 1225.88L633.56 1242.58L619.06 1259.28L604.56 1242.58ZM635.67 1221.44L650.17 1238.14L635.67 1254.84L621.17 1238.14ZM652.29 1216.56L666.79 1233.26L652.29 1249.96L637.79 1233.26ZM668.91 1212.72L683.41 1229.42L668.91 1246.12L654.41 1229.42ZM685.53 1208.36L700.03 1225.06L685.53 1241.76L671.03 1225.06ZM702.15 1202.81L716.65 1219.51L702.15 1236.21L687.65 1219.51ZM718.77 1196.3L733.27 1213L718.77 1229.7L704.27 1213ZM735.39 1190.24L749.89 1206.94L735.39 1223.64L720.89 1206.94ZM752.01 1183.14L766.51 1199.84L752.01 1216.54L737.51 1199.84ZM768.63 1180.93L783.13 1197.63L768.63 1214.33L754.13 1197.63ZM785.25 1173.83L799.75 1190.53L785.25 1207.23L770.75 1190.53ZM801.87 1169.54L816.37 1186.24L801.87 1202.94L787.37 1186.24ZM818.48 1160.67L832.98 1177.37L818.48 1194.07L803.98 1177.37ZM835.1 1154.16L849.6 1170.86L835.1 1187.56L820.6 1170.86ZM851.72 1149.73L866.22 1166.43L851.72 1183.13L837.22 1166.43ZM868.34 1146.77L882.84 1163.47L868.34 1180.17L853.84 1163.47ZM884.96 1140.41L899.46 1157.11L884.96 1173.81L870.46 1157.11ZM901.58 1134.05L916.08 1150.75L901.58 1167.45L887.08 1150.75ZM918.2 1127.55L932.7 1144.25L918.2 1160.95L903.7 1144.25ZM934.82 1123.7L949.32 1140.4L934.82 1157.1L920.32 1140.4ZM951.44 1117.12L965.94 1133.82L951.44 1150.52L936.94 1133.82ZM968.05 1112.17L982.55 1128.87L968.05 1145.57L953.55 1128.87ZM984.67 1106.7L999.17 1123.4L984.67 1140.1L970.17 1123.4ZM1001.29 1099.01L1015.79 1115.71L1001.29 1132.41L986.79 1115.71ZM1017.91 1096.35L1032.41 1113.05L1017.91 1129.75L1003.41 1113.05ZM1034.53 1092.51L1049.03 1109.21L1034.53 1125.91L1020.03 1109.21ZM1051.15 1085.41L1065.65 1102.11L1051.15 1118.81L1036.65 1102.11ZM1067.77 1078.01L1082.27 1094.71L1067.77 1111.41L1053.27 1094.71ZM1084.39 1076.09L1098.89 1092.79L1084.39 1109.49L1069.89 1092.79ZM1101.01 1068.11L1115.51 1084.81L1101.01 1101.51L1086.51 1084.81ZM1117.63 1064.85L1132.13 1081.55L1117.63 1098.25L1103.13 1081.55ZM1134.24 1055.24L1148.74 1071.94L1134.24 1088.64L1119.74 1071.94ZM1150.86 1051.25L1165.36 1067.95L1150.86 1084.65L1136.36 1067.95ZM1167.48 1044.75L1181.98 1061.45L1167.48 1078.15L1152.98 1061.45ZM1184.1 1037.65L1198.6 1054.35L1184.1 1071.05L1169.6 1054.35ZM1200.72 1031.59L1215.22 1048.29L1200.72 1064.99L1186.22 1048.29ZM1217.34 1024.49L1231.84 1041.19L1217.34 1057.89L1202.84 1041.19ZM1233.96 1011.48L1248.46 1028.18L1233.96 1044.88L1219.46 1028.18ZM1250.58 1007.78L1265.08 1024.48L1250.58 1041.18L1236.08 1024.48ZM1267.2 995.51L1281.7 1012.21L1267.2 1028.91L1252.7 1012.21ZM1283.82 981.9L1298.32 998.6L1283.82 1015.3L1269.32 998.6ZM1300.43 970.07L1314.93 986.77L1300.43 1003.48L1285.93 986.77ZM1317.05 959.72L1331.55 976.42L1317.05 993.12L1302.55 976.42ZM1333.67 947.9L1348.17 964.6L1333.67 981.3L1319.17 964.6ZM1350.29 938.28L1364.79 954.98L1350.29 971.68L1335.79 954.98ZM1366.91 928.67L1381.41 945.37L1366.91 962.07L1352.41 945.37ZM1383.53 916.84L1398.03 933.54L1383.53 950.24L1369.03 933.54ZM1400.15 900.58L1414.65 917.28L1400.15 933.98L1385.65 917.28ZM1416.77 887.27L1431.27 903.97L1416.77 920.67L1402.27 903.97ZM1433.39 874.85L1447.89 891.55L1433.39 908.25L1418.89 891.55ZM1450.01 858.29L1464.51 874.99L1450.01 891.69L1435.51 874.99ZM1466.62 843.65L1481.12 860.35L1466.62 877.05L1452.12 860.35ZM1483.24 822.8L1497.74 839.5L1483.24 856.2L1468.74 839.5ZM1499.86 808.31L1514.36 825.01L1499.86 841.71L1485.36 825.01ZM1516.48 787.46L1530.98 804.16L1516.48 820.86L1501.98 804.16ZM1533.1 767.5L1547.6 784.2L1533.1 800.9L1518.6 784.2ZM1549.72 745.32L1564.22 762.02L1549.72 778.72L1535.22 762.02ZM1566.34 720.78L1580.84 737.48L1566.34 754.18L1551.84 737.48ZM1582.96 702.44L1597.46 719.14L1582.96 735.84L1568.46 719.14ZM1599.58 674.94L1614.08 691.64L1599.58 708.34L1585.08 691.64ZM1616.2 649.21L1630.7 665.91L1616.2 682.61L1601.7 665.91ZM1632.81 622.6L1647.31 639.3L1632.81 656L1618.31 639.3ZM1649.43 594.95L1663.93 611.65L1649.43 628.35L1634.93 611.65ZM1666.05 569.81L1680.55 586.51L1666.05 603.21L1651.55 586.51ZM1682.67 542.75L1697.17 559.45L1682.67 576.15L1668.17 559.45ZM1699.29 516.14L1713.79 532.84L1699.29 549.54L1684.79 532.84ZM1715.91 484.35L1730.41 501.05L1715.91 517.75L1701.41 501.05ZM1732.53 463.5L1747.03 480.2L1732.53 496.9L1718.03 480.2ZM1749.15 438.51L1763.65 455.21L1749.15 471.91L1734.65 455.21ZM1765.77 420.03L1780.27 436.73L1765.77 453.43L1751.27 436.73ZM1782.39 400.8L1796.89 417.5L1782.39 434.2L1767.89 417.5ZM1799 396.81L1813.5 413.51L1799 430.21L1784.5 413.51ZM1815.62 399.92L1830.12 416.62L1815.62 433.32L1801.12 416.62ZM1832.24 434.37L1846.74 451.07L1832.24 467.77L1817.74 451.07ZM1848.86 497.95L1863.36 514.65L1848.86 531.35L1834.36 514.65ZM1865.48 629.99L1879.98 646.69L1865.48 663.39L1850.98 646.69ZM1882.1 1077.72L1896.6 1094.42L1882.1 1111.12L1867.6 1094.42Z" fill="#E9C46A"/></g>
<g><polyline transform="scale(1.12 1)" points="196.61,1282.5 211.45,1282.5 226.28,1282.5 241.12,1282.5 255.96,1282.5 270.8,1282.5 285.64,1282.5 300.48,1282.5 315.31,1282.5 330.15,1282.5 344.99,1282.5 359.83,1282.5 374.67,1282.5 389.51,1282.5 404.34,1282.5 419.18,1282.5 434.02,1282.5 448.86,1282.5 463.7,1282.5 478.54,1282.5 493.37,1282.5 508.21,1282.39 523.05,1282.09 537.89,1281.67 552.73,1281.2 567.57,1280.73 582.41,1280.2 597.24,1279.57 612.08,1278.92 626.92,1278.36 641.76,1277.92 656.6,1276.73 671.44,1276.22 686.27,1275.7 701.11,1274.52 715.95,1272.89 730.79,1271.26 745.63,1269.64 760.47,1268.6 775.3,1266.9 790.14,1265.35 804.98,1263.41 819.82,1261.23 834.66,1258.77 849.5,1256.01 864.33,1252.93 879.17,1249.32 894.01,1245.07 908.85,1240.25 923.69,1234.96 938.53,1229.27 953.37,1222.96 968.2,1215.85 983.04,1208.04 997.88,1199.65 1012.72,1190.83 1027.56,1180.91 1042.4,1170.12 1057.23,1159.03 1072.07,1145.88 1086.91,1132.72 1101.75,1118.52 1116.59,1101 1131.43,1086.58 1146.26,1068.1 1161.1,1047.4 1175.94,1025.96 1190.78,1001.56 1205.62,980.86 1220.46,954.25 1235.29,932.07 1250.13,891.55 1264.97,868.49 1279.81,834.48 1294.65,809.34 1309.49,775.33 1324.32,745.02 1339.16,712.49 1354,680.7 1368.84,646.69 1383.68,617.86 1398.52,591.98 1413.36,557.38 1428.19,528.4 1443.03,500.31 1457.87,476.06 1472.71,455.21 1487.55,430.22 1502.39,407.15 1517.22,383.5 1532.06,366.49 1546.9,356.59 1561.74,348.01 1576.58,337.66 1591.42,334.7 1606.25,328.79 1621.09,324.35 1635.93,323.46 1650.77,307.79 1665.61,203.1 1680.45,376.84" fill="none" stroke="#E76F51" stroke-width="8.8" stroke-linejoin="round" stroke-linecap="butt"/><path d="M215.3 1270.3L225.1 1270.3L225.1 1278.05L232.6 1278.05L232.6 1286.95L225.1 1286.95L225.1 1294.7L215.3 1294.7L215.3 1286.95L207.8 1286.95L207.8 1278.05L215.3 1278.05ZM231.92 1270.3L241.72 1270.3L241.72 1278.05L249.22 1278.05L249.22 1286.95L241.72 1286.95L241.72 1294.7L231.92 1294.7L231.92 1286.95L224.42 1286.95L224.42 1278.05L231.92 1278.05ZM248.54 1270.3L258.34 1270.3L258.34 1278.05L265.84 1278.05L265.84 1286.95L258.34 1286.95L258.34 1294.7L248.54 1294.7L248.54 1286.95L241.04 1286.95L241.04 1278.05L248.54 1278.05ZM265.16 1270.3L274.96 1270.3L274.96 1278.05L282.46 1278.05L282.46 1286.95L274.96 1286.95L274.96 1294.7L265.16 1294.7L265.16 1286.95L257.66 1286.95L257.66 1278.05L265.16 1278.05ZM281.78 1270.3L291.58 1270.3L291.58 1278.05L299.08 1278.05L299.08 1286.95L291.58 1286.95L291.58 1294.7L281.78 1294.7L281.78 1286.95L274.28 1286.95L274.28 1278.05L281.78 1278.05ZM298.39 1270.3L308.19 1270.3L308.19 1278.05L315.69 1278.05L315.69 1286.95L308.19 1286.95L308.19 1294.7L298.39 1294.7L298.39 1286.95L290.89 1286.95L290.89 1278.05L298.39 1278.05ZM315.01 1270.3L324.81 1270.3L324.81 1278.05L332.31 1278.05L332.31 1286.95L324.81 1286.95L324.81 1294.7L315.01 1294.7L315.01 1286.95L307.51 1286.95L307.51 1278.05L315.01 1278.05ZM331.63 1270.3L341.43 1270.3L341.43 1278.05L348.93 1278.05L348.93 1286.95L341.43 1286.95L341.43 1294.7L331.63 1294.7L331.63 1286.95L324.13 1286.95L324.13 1278.05L331.63 1278.05ZM348.25 1270.3L358.05 1270.3L358.05 1278.05L365.55 1278.05L365.55 1286.95L358.05 1286.95L358.05 1294.7L348.25 1294.7L348.25 1286.95L340.75 1286.95L340.75 1278.05L348.25 1278.05ZM364.87 1270.3L374.67 1270.3L374.67 1278.05L382.17 1278.05L382.17 1286.95L374.67 1286.95L374.67 1294.7L364.87 1294.7L364.87 1286.95L357.37 1286.95L357.37 1278.05L364.87 1278.05ZM381.49 1270.3L391.29 1270.3L391.29 1278.05L398.79 1278.05L398.79 1286.95L391.29 1286.95L391.29 1294.7L381.49 1294.7L381.49 1286.95L373.99 1286.95L373.99 1278.05L381.49 1278.05ZM398.11 1270.3L407.91 1270.3L407.91 1278.05L415.41 1278.05L415.41 1286.95L407.91 1286.95L407.91 1294.7L398.11 1294.7L398.11 1286.95L390.61 1286.95L390.61 1278.05L398.11 1278.05ZM414.73 1270.3L424.53 1270.3L424.53 1278.05L432.03 1278.05L432.03 1286.95L424.53 1286.95L424.53 1294.7L414.73 1294.7L414.73 1286.95L407.23 1286.95L407.23 1278.05L414.73 1278.05ZM431.35 1270.3L441.15 1270.3L441.15 1278.05L448.65 1278.05L448.65 1286.95L441.15 1286.95L441.15 1294.7L431.35 1294.7L431.35 1286.95L423.85 1286.95L423.85 1278.05L431.35 1278.05ZM447.97 1270.3L457.77 1270.3L457.77 1278.05L465.27 1278.05L465.27 1286.95L457.77 1286.95L457.77 1294.7L447.97 1294.7L447.97 1286.95L440.47 1286.95L440.47 1278.05L447.97 1278.05ZM464.58 1270.3L474.38 1270.3L474.38 1278.05L481.88 1278.05L481.88 1286.95L474.38 1286.95L474.38 1294.7L464.58 1294.7L464.58 1286.95L457.08 1286.95L457.08 1278.05L464.58 1278.05ZM481.2 1270.3L491 1270.3L491 1278.05L498.5 1278.05L498.5 1286.95L491 1286.95L491 1294.7L481.2 1294.7L481.2 1286.95L473.7 1286.95L473.7 1278.05L481.2 1278.05ZM497.82 1270.3L507.62 1270.3L507.62 1278.05L515.12 1278.05L515.12 1286.95L507.62 1286.95L507.62 1294.7L497.82 1294.7L497.82 1286.95L490.32 1286.95L490.32 1278.05L497.82 1278.05ZM514.44 1270.3L524.24 1270.3L524.24 1278.05L531.74 1278.05L531.74 1286.95L524.24 1286.95L524.24 1294.7L514.44 1294.7L514.44 1286.95L506.94 1286.95L506.94 1278.05L514.44 1278.05ZM531.06 1270.3L540.86 1270.3L540.86 1278.05L548.36 1278.05L548.36 1286.95L540.86 1286.95L540.86 1294.7L531.06 1294.7L531.06 1286.95L523.56 1286.95L523.56 1278.05L531.06 1278.05ZM547.68 1270.3L557.48 1270.3L557.48 1278.05L564.98 1278.05L564.98 1286.95L557.48 1286.95L557.48 1294.7L547.68 1294.7L547.68 1286.95L540.18 1286.95L540.18 1278.05L547.68 1278.05ZM564.3 1270.19L574.1 1270.19L574.1 1277.94L581.6 1277.94L581.6 1286.84L574.1 1286.84L574.1 1294.59L564.3 1294.59L564.3 1286.84L556.8 1286.84L556.8 1277.94L564.3 1277.94ZM580.92 1269.89L590.72 1269.89L590.72 1277.64L598.22 1277.64L598.22 1286.54L590.72 1286.54L590.72 1294.29L580.92 1294.29L580.92 1286.54L573.42 1286.54L573.42 1277.64L580.92 1277.64ZM597.54 1269.47L607.34 1269.47L607.34 1277.22L614.84 1277.22L614.84 1286.12L607.34 1286.12L607.34 1293.87L597.54 1293.87L597.54 1286.12L590.04 1286.12L590.04 1277.22L597.54 1277.22ZM614.16 1269L623.96 1269L623.96 1276.75L631.46 1276.75L631.46 1285.65L623.96 1285.65L623.96 1293.4L614.16 1293.4L614.16 1285.65L606.66 1285.65L606.66 1276.75L614.16 1276.75ZM630.77 1268.53L640.57 1268.53L640.57 1276.28L648.07 1276.28L648.07 1285.18L640.57 1285.18L640.57 1292.93L630.77 1292.93L630.77 1285.18L623.27 1285.18L623.27 1276.28L630.77 1276.28ZM647.39 1268L657.19 1268L657.19 1275.75L664.69 1275.75L664.69 1284.65L657.19 1284.65L657.19 1292.4L647.39 1292.4L647.39 1284.65L639.89 1284.65L639.89 1275.75L647.39 1275.75ZM664.01 1267.37L673.81 1267.37L673.81 1275.12L681.31 1275.12L681.31 1284.02L673.81 1284.02L673.81 1291.77L664.01 1291.77L664.01 1284.02L656.51 1284.02L656.51 1275.12L664.01 1275.12ZM680.63 1266.72L690.43 1266.72L690.43 1274.47L697.93 1274.47L697.93 1283.37L690.43 1283.37L690.43 1291.12L680.63 1291.12L680.63 1283.37L673.13 1283.37L673.13 1274.47L680.63 1274.47ZM697.25 1266.16L707.05 1266.16L707.05 1273.91L714.55 1273.91L714.55 1282.81L707.05 1282.81L707.05 1290.56L697.25 1290.56L697.25 1282.81L689.75 1282.81L689.75 1273.91L697.25 1273.91ZM713.87 1265.72L723.67 1265.72L723.67 1273.47L731.17 1273.47L731.17 1282.37L723.67 1282.37L723.67 1290.12L713.87 1290.12L713.87 1282.37L706.37 1282.37L706.37 1273.47L713.87 1273.47ZM730.49 1264.53L740.29 1264.53L740.29 1272.28L747.79 1272.28L747.79 1281.18L740.29 1281.18L740.29 1288.93L730.49 1288.93L730.49 1281.18L722.99 1281.18L722.99 1272.28L730.49 1272.28ZM747.11 1264.02L756.91 1264.02L756.91 1271.77L764.41 1271.77L764.41 1280.67L756.91 1280.67L756.91 1288.42L747.11 1288.42L747.11 1280.67L739.61 1280.67L739.61 1271.77L747.11 1271.77ZM763.73 1263.5L773.53 1263.5L773.53 1271.25L781.03 1271.25L781.03 1280.15L773.53 1280.15L773.53 1287.9L763.73 1287.9L763.73 1280.15L756.23 1280.15L756.23 1271.25L763.73 1271.25ZM780.35 1262.32L790.15 1262.32L790.15 1270.07L797.65 1270.07L797.65 1278.97L790.15 1278.97L790.15 1286.72L780.35 1286.72L780.35 1278.97L772.85 1278.97L772.85 1270.07L780.35 1270.07ZM796.97 1260.69L806.76 1260.69L806.76 1268.44L814.26 1268.44L814.26 1277.34L806.76 1277.34L806.76 1285.09L796.97 1285.09L796.97 1277.34L789.47 1277.34L789.47 1268.44L796.97 1268.44ZM813.58 1259.06L823.38 1259.06L823.38 1266.81L830.88 1266.81L830.88 1275.71L823.38 1275.71L823.38 1283.46L813.58 1283.46L813.58 1275.71L806.08 1275.71L806.08 1266.81L813.58 1266.81ZM830.2 1257.44L840 1257.44L840 1265.19L847.5 1265.19L847.5 1274.09L840 1274.09L840 1281.84L830.2 1281.84L830.2 1274.09L822.7 1274.09L822.7 1265.19L830.2 1265.19ZM846.82 1256.4L856.62 1256.4L856.62 1264.15L864.12 1264.15L864.12 1273.05L856.62 1273.05L856.62 1280.8L846.82 1280.8L846.82 1273.05L839.32 1273.05L839.32 1264.15L846.82 1264.15ZM863.44 1254.7L873.24 1254.7L873.24 1262.45L880.74 1262.45L880.74 1271.35L873.24 1271.35L873.24 1279.1L863.44 1279.1L863.44 1271.35L855.94 1271.35L855.94 1262.45L863.44 1262.45ZM880.06 1253.15L889.86 1253.15L889.86 1260.9L897.36 1260.9L897.36 1269.8L889.86 1269.8L889.86 1277.55L880.06 1277.55L880.06 1269.8L872.56 1269.8L872.56 1260.9L880.06 1260.9ZM896.68 1251.21L906.48 1251.21L906.48 1258.96L913.98 1258.96L913.98 1267.86L906.48 1267.86L906.48 1275.61L896.68 1275.61L896.68 1267.86L889.18 1267.86L889.18 1258.96L896.68 1258.96ZM913.3 1249.03L923.1 1249.03L923.1 1256.78L930.6 1256.78L930.6 1265.68L923.1 1265.68L923.1 1273.43L913.3 1273.43L913.3 1265.68L905.8 1265.68L905.8 1256.78L913.3 1256.78ZM929.92 1246.57L939.72 1246.57L939.72 1254.32L947.22 1254.32L947.22 1263.22L939.72 1263.22L939.72 1270.97L929.92 1270.97L929.92 1263.22L922.42 1263.22L922.42 1254.32L929.92 1254.32ZM946.54 1243.81L956.34 1243.81L956.34 1251.56L963.84 1251.56L963.84 1260.46L956.34 1260.46L956.34 1268.21L946.54 1268.21L946.54 1260.46L939.04 1260.46L939.04 1251.56L946.54 1251.56ZM963.15 1240.73L972.95 1240.73L972.95 1248.48L980.45 1248.48L980.45 1257.38L972.95 1257.38L972.95 1265.13L963.15 1265.13L963.15 1257.38L955.65 1257.38L955.65 1248.48L963.15 1248.48ZM979.77 1237.12L989.57 1237.12L989.57 1244.87L997.07 1244.87L997.07 1253.77L989.57 1253.77L989.57 1261.52L979.77 1261.52L979.77 1253.77L972.27 1253.77L972.27 1244.87L979.77 1244.87ZM996.39 1232.87L1006.19 1232.87L1006.19 1240.62L1013.69 1240.62L1013.69 1249.52L1006.19 1249.52L1006.19 1257.27L996.39 1257.27L996.39 1249.52L988.89 1249.52L988.89 1240.62L996.39 1240.62ZM1013.01 1228.05L1022.81 1228.05L1022.81 1235.8L1030.31 1235.8L1030.31 1244.7L1022.81 1244.7L1022.81 1252.45L1013.01 1252.45L1013.01 1244.7L1005.51 1244.7L1005.51 1235.8L1013.01 1235.8ZM1029.63 1222.76L1039.43 1222.76L1039.43 1230.51L1046.93 1230.51L1046.93 1239.41L1039.43 1239.41L1039.43 1247.16L1029.63 1247.16L1029.63 1239.41L1022.13 1239.41L1022.13 1230.51L1029.63 1230.51ZM1046.25 1217.07L1056.05 1217.07L1056.05 1224.82L1063.55 1224.82L1063.55 1233.72L1056.05 1233.72L1056.05 1241.47L1046.25 1241.47L1046.25 1233.72L1038.75 1233.72L1038.75 1224.82L1046.25 1224.82ZM1062.87 1210.76L1072.67 1210.76L1072.67 1218.51L1080.17 1218.51L1080.17 1227.41L1072.67 1227.41L1072.67 1235.16L1062.87 1235.16L1062.87 1227.41L1055.37 1227.41L1055.37 1218.51L1062.87 1218.51ZM1079.49 1203.65L1089.29 1203.65L1089.29 1211.4L1096.79 1211.4L1096.79 1220.3L1089.29 1220.3L1089.29 1228.05L1079.49 1228.05L1079.49 1220.3L1071.99 1220.3L1071.99 1211.4L1079.49 1211.4ZM1096.11 1195.84L1105.91 1195.84L1105.91 1203.59L1113.41 1203.59L1113.41 1212.49L1105.91 1212.49L1105.91 1220.24L1096.11 1220.24L1096.11 1212.49L1088.61 1212.49L1088.61 1203.59L1096.11 1203.59ZM1112.73 1187.45L1122.53 1187.45L1122.53 1195.2L1130.03 1195.2L1130.03 1204.1L1122.53 1204.1L1122.53 1211.85L1112.73 1211.85L1112.73 1204.1L1105.23 1204.1L1105.23 1195.2L1112.73 1195.2ZM1129.34 1178.63L1139.14 1178.63L1139.14 1186.38L1146.64 1186.38L1146.64 1195.28L1139.14 1195.28L1139.14 1203.03L1129.34 1203.03L1129.34 1195.28L1121.84 1195.28L1121.84 1186.38L1129.34 1186.38ZM1145.96 1168.71L1155.76 1168.71L1155.76 1176.46L1163.26 1176.46L1163.26 1185.36L1155.76 1185.36L1155.76 1193.11L1145.96 1193.11L1145.96 1185.36L1138.46 1185.36L1138.46 1176.46L1145.96 1176.46ZM1162.58 1157.92L1172.38 1157.92L1172.38 1165.67L1179.88 1165.67L1179.88 1174.57L1172.38 1174.57L1172.38 1182.32L1162.58 1182.32L1162.58 1174.57L1155.08 1174.57L1155.08 1165.67L1162.58 1165.67ZM1179.2 1146.83L1189 1146.83L1189 1154.58L1196.5 1154.58L1196.5 1163.48L1189 1163.48L1189 1171.23L1179.2 1171.23L1179.2 1163.48L1171.7 1163.48L1171.7 1154.58L1179.2 1154.58ZM1195.82 1133.68L1205.62 1133.68L1205.62 1141.43L1213.12 1141.43L1213.12 1150.33L1205.62 1150.33L1205.62 1158.08L1195.82 1158.08L1195.82 1150.33L1188.32 1150.33L1188.32 1141.43L1195.82 1141.43ZM1212.44 1120.52L1222.24 1120.52L1222.24 1128.27L1229.74 1128.27L1229.74 1137.17L1222.24 1137.17L1222.24 1144.92L1212.44 1144.92L1212.44 1137.17L1204.94 1137.17L1204.94 1128.27L1212.44 1128.27ZM1229.06 1106.32L1238.86 1106.32L1238.86 1114.07L1246.36 1114.07L1246.36 1122.97L1238.86 1122.97L1238.86 1130.72L1229.06 1130.72L1229.06 1122.97L1221.56 1122.97L1221.56 1114.07L1229.06 1114.07ZM1245.68 1088.8L1255.48 1088.8L1255.48 1096.55L1262.98 1096.55L1262.98 1105.45L1255.48 1105.45L1255.48 1113.2L1245.68 1113.2L1245.68 1105.45L1238.18 1105.45L1238.18 1096.55L1245.68 1096.55ZM1262.3 1074.38L1272.1 1074.38L1272.1 1082.13L1279.6 1082.13L1279.6 1091.03L1272.1 1091.03L1272.1 1098.78L1262.3 1098.78L1262.3 1091.03L1254.8 1091.03L1254.8 1082.13L1262.3 1082.13ZM1278.92 1055.9L1288.72 1055.9L1288.72 1063.65L1296.22 1063.65L1296.22 1072.55L1288.72 1072.55L1288.72 1080.3L1278.92 1080.3L1278.92 1072.55L1271.42 1072.55L1271.42 1063.65L1278.92 1063.65ZM1295.53 1035.2L1305.34 1035.2L1305.34 1042.95L1312.84 1042.95L1312.84 1051.85L1305.34 1051.85L1305.34 1059.6L1295.53 1059.6L1295.53 1051.85L1288.03 1051.85L1288.03 1042.95L1295.53 1042.95ZM1312.15 1013.76L1321.95 1013.76L1321.95 1021.51L1329.45 1021.51L1329.45 1030.41L1321.95 1030.41L1321.95 1038.16L1312.15 1038.16L1312.15 1030.41L1304.65 1030.41L1304.65 1021.51L1312.15 1021.51ZM1328.77 989.36L1338.57 989.36L1338.57 997.11L1346.07 997.11L1346.07 1006.01L1338.57 1006.01L1338.57 1013.76L1328.77 1013.76L1328.77 1006.01L1321.27 1006.01L1321.27 997.11L1328.77 997.11ZM1345.39 968.66L1355.19 968.66L1355.19 976.41L1362.69 976.41L1362.69 985.31L1355.19 985.31L1355.19 993.06L1345.39 993.06L1345.39 985.31L1337.89 985.31L1337.89 976.41L1345.39 976.41ZM1362.01 942.05L1371.81 942.05L1371.81 949.8L1379.31 949.8L1379.31 958.7L1371.81 958.7L1371.81 966.45L1362.01 966.45L1362.01 958.7L1354.51 958.7L1354.51 949.8L1362.01 949.8ZM1378.63 919.87L1388.43 919.87L1388.43 927.62L1395.93 927.62L1395.93 936.52L1388.43 936.52L1388.43 944.27L1378.63 944.27L1378.63 936.52L1371.13 936.52L1371.13 927.62L1378.63 927.62ZM1395.25 879.35L1405.05 879.35L1405.05 887.1L1412.55 887.1L1412.55 896L1405.05 896L1405.05 903.75L1395.25 903.75L1395.25 896L1387.75 896L1387.75 887.1L1395.25 887.1ZM1411.87 856.28L1421.67 856.28L1421.67 864.03L1429.17 864.03L1429.17 872.94L1421.67 872.94L1421.67 880.69L1411.87 880.69L1411.87 872.94L1404.37 872.94L1404.37 864.03L1411.87 864.03ZM1428.49 822.28L1438.29 822.28L1438.29 830.03L1445.79 830.03L1445.79 838.93L1438.29 838.93L1438.29 846.68L1428.49 846.68L1428.49 838.93L1420.99 838.93L1420.99 830.03L1428.49 830.03ZM1445.11 797.14L1454.91 797.14L1454.91 804.89L1462.41 804.89L1462.41 813.79L1454.91 813.79L1454.91 821.54L1445.11 821.54L1445.11 813.79L1437.61 813.79L1437.61 804.89L1445.11 804.89ZM1461.72 763.13L1471.53 763.13L1471.53 770.88L1479.03 770.88L1479.03 779.78L1471.53 779.78L1471.53 787.53L1461.72 787.53L1461.72 779.78L1454.22 779.78L1454.22 770.88L1461.72 770.88ZM1478.34 732.82L1488.14 732.82L1488.14 740.57L1495.64 740.57L1495.64 749.47L1488.14 749.47L1488.14 757.22L1478.34 757.22L1478.34 749.47L1470.84 749.47L1470.84 740.57L1478.34 740.57ZM1494.96 700.29L1504.76 700.29L1504.76 708.04L1512.26 708.04L1512.26 716.94L1504.76 716.94L1504.76 724.69L1494.96 724.69L1494.96 716.94L1487.46 716.94L1487.46 708.04L1494.96 708.04ZM1511.58 668.5L1521.38 668.5L1521.38 676.25L1528.88 676.25L1528.88 685.15L1521.38 685.15L1521.38 692.9L1511.58 692.9L1511.58 685.15L1504.08 685.15L1504.08 676.25L1511.58 676.25ZM1528.2 634.49L1538 634.49L1538 642.24L1545.5 642.24L1545.5 651.14L1538 651.14L1538 658.89L1528.2 658.89L1528.2 651.14L1520.7 651.14L1520.7 642.24L1528.2 642.24ZM1544.82 605.66L1554.62 605.66L1554.62 613.41L1562.12 613.41L1562.12 622.31L1554.62 622.31L1554.62 630.06L1544.82 630.06L1544.82 622.31L1537.32 622.31L1537.32 613.41L1544.82 613.41ZM1561.44 579.78L1571.24 579.78L1571.24 587.53L1578.74 587.53L1578.74 596.43L1571.24 596.43L1571.24 604.18L1561.44 604.18L1561.44 596.43L1553.94 596.43L1553.94 587.53L1561.44 587.53ZM1578.06 545.18L1587.86 545.18L1587.86 552.93L1595.36 552.93L1595.36 561.83L1587.86 561.83L1587.86 569.58L1578.06 569.58L1578.06 561.83L1570.56 561.83L1570.56 552.93L1578.06 552.93ZM1594.68 516.2L1604.48 516.2L1604.48 523.95L1611.98 523.95L1611.98 532.85L1604.48 532.85L1604.48 540.6L1594.68 540.6L1594.68 532.85L1587.18 532.85L1587.18 523.95L1594.68 523.95ZM1611.3 488.11L1621.1 488.11L1621.1 495.86L1628.6 495.86L1628.6 504.76L1621.1 504.76L1621.1 512.51L1611.3 512.51L1611.3 504.76L1603.8 504.76L1603.8 495.86L1611.3 495.86ZM1627.91 463.86L1637.71 463.86L1637.71 471.61L1645.21 471.61L1645.21 480.51L1637.71 480.51L1637.71 488.26L1627.91 488.26L1627.91 480.51L1620.41 480.51L1620.41 471.61L1627.91 471.61ZM1644.53 443.01L1654.33 443.01L1654.33 450.76L1661.83 450.76L1661.83 459.66L1654.33 459.66L1654.33 467.41L1644.53 467.41L1644.53 459.66L1637.03 459.66L1637.03 450.76L1644.53 450.76ZM1661.15 418.02L1670.95 418.02L1670.95 425.77L1678.45 425.77L1678.45 434.67L1670.95 434.67L1670.95 442.42L1661.15 442.42L1661.15 434.67L1653.65 434.67L1653.65 425.77L1661.15 425.77ZM1677.77 394.95L1687.57 394.95L1687.57 402.7L1695.07 402.7L1695.07 411.6L1687.57 411.6L1687.57 419.35L1677.77 419.35L1677.77 411.6L1670.27 411.6L1670.27 402.7L1677.77 402.7ZM1694.39 371.3L1704.19 371.3L1704.19 379.05L1711.69 379.05L1711.69 387.95L1704.19 387.95L1704.19 395.7L1694.39 395.7L1694.39 387.95L1686.89 387.95L1686.89 379.05L1694.39 379.05ZM1711.01 354.29L1720.81 354.29L1720.81 362.04L1728.31 362.04L1728.31 370.94L1720.81 370.94L1720.81 378.69L1711.01 378.69L1711.01 370.94L1703.51 370.94L1703.51 362.04L1711.01 362.04ZM1727.63 344.39L1737.43 344.39L1737.43 352.14L1744.93 352.14L1744.93 361.04L1737.43 361.04L1737.43 368.79L1727.63 368.79L1727.63 361.04L1720.13 361.04L1720.13 352.14L1727.63 352.14ZM1744.25 335.81L1754.05 335.81L1754.05 343.56L1761.55 343.56L1761.55 352.46L1754.05 352.46L1754.05 360.21L1744.25 360.21L1744.25 352.46L1736.75 352.46L1736.75 343.56L1744.25 343.56ZM1760.87 325.46L1770.67 325.46L1770.67 333.21L1778.17 333.21L1778.17 342.11L1770.67 342.11L1770.67 349.86L1760.87 349.86L1760.87 342.11L1753.37 342.11L1753.37 333.21L1760.87 333.21ZM1777.49 322.5L1787.29 322.5L1787.29 330.25L1794.79 330.25L1794.79 339.15L1787.29 339.15L1787.29 346.9L1777.49 346.9L1777.49 339.15L1769.99 339.15L1769.99 330.25L1777.49 330.25ZM1794.1 316.59L1803.9 316.59L1803.9 324.34L1811.4 324.34L1811.4 333.24L1803.9 333.24L1803.9 340.99L1794.1 340.99L1794.1 333.24L1786.6 333.24L1786.6 324.34L1794.1 324.34ZM1810.72 312.15L1820.52 312.15L1820.52 319.9L1828.02 319.9L1828.02 328.8L1820.52 328.8L1820.52 336.55L1810.72 336.55L1810.72 328.8L1803.22 328.8L1803.22 319.9L1810.72 319.9ZM1827.34 311.26L1837.14 311.26L1837.14 319.01L1844.64 319.01L1844.64 327.91L1837.14 327.91L1837.14 335.66L1827.34 335.66L1827.34 327.91L1819.84 327.91L1819.84 319.01L1827.34 319.01ZM1843.96 295.59L1853.76 295.59L1853.76 303.34L1861.26 303.34L1861.26 312.24L1853.76 312.24L1853.76 319.99L1843.96 319.99L1843.96 312.24L1836.46 312.24L1836.46 303.34L1843.96 303.34ZM1860.58 190.9L1870.38 190.9L1870.38 198.65L1877.88 198.65L1877.88 207.55L1870.38 207.55L1870.38 215.3L1860.58 215.3L1860.58 207.55L1853.08 207.55L1853.08 198.65L1860.58 198.65ZM1877.2 364.64L1887 364.64L1887 372.39L1894.5 372.39L1894.5 381.29L1887 381.29L1887 389.04L1877.2 389.04L1877.2 381.29L1869.7 381.29L1869.7 372.39L1877.2 372.39Z" fill="#E76F51"/></g>
<rect x="271.9" y="118.6" width="555.3" height="369.4" fill="#fff"/>
<rect x="269.4" y="117.4" width="4.6" height="372.5" fill="#909090"/>
<rect x="825.1" y="117.4" width="2.1" height="372.5" fill="#707070"/>
<rect x="827.2" y="117.4" width="2.6" height="371.2" fill="#a8a8a8"/>
<rect x="271.9" y="486.1" width="555.3" height="1.8" fill="#c8c8c8"/>
<rect x="271.9" y="487.9" width="555.3" height="2" fill="#565656"/>
<rect x="271.9" y="117.4" width="557.9" height="2.4" fill="#2a2a2a"/>
<g><polyline transform="scale(1.12 1)" points="311.88,160.5 449.91,160.5" fill="none" stroke="#287271" stroke-width="8.8" stroke-linejoin="round" stroke-linecap="butt"/><path d="M427 143L443.4 169.7L410.6 169.7Z" fill="#287271" stroke="#287271" stroke-width="1.4" stroke-linejoin="round"/></g>
<g><polyline transform="scale(1.12 1)" points="311.88,231.9 449.91,231.9" fill="none" stroke="#2A9D8F" stroke-width="8.8" stroke-linejoin="round" stroke-linecap="butt"/><path d="M414.7 232.2a12.3 12.2 0 1 0 24.6 0a12.3 12.2 0 1 0 -24.6 0Z" fill="#2A9D8F"/></g>
<g><polyline transform="scale(1.12 1)" points="311.88,303.7 449.91,303.7" fill="none" stroke="#8AB17D" stroke-width="8.8" stroke-linejoin="round" stroke-linecap="butt"/><path d="M427 287.3L441.5 304L427 320.7L412.5 304Z" fill="#8AB17D"/></g>
<g><polyline transform="scale(1.12 1)" points="311.88,375.2 449.91,375.2" fill="none" stroke="#E9C46A" stroke-width="8.8" stroke-linejoin="round" stroke-linecap="butt"/><path d="M427 358.8L441.5 375.5L427 392.2L412.5 375.5Z" fill="#E9C46A"/></g>
<g><polyline transform="scale(1.12 1)" points="311.88,446.8 449.91,446.8" fill="none" stroke="#E76F51" stroke-width="8.8" stroke-linejoin="round" stroke-linecap="butt"/><path d="M422.1 434.9L431.9 434.9L431.9 442.65L439.4 442.65L439.4 451.55L431.9 451.55L431.9 459.3L422.1 459.3L422.1 451.55L414.6 451.55L414.6 442.65L422.1 442.65Z" fill="#E76F51"/></g>
<text transform="matrix(0.6894 0 0 0.5896 160.56 1300.91)" font-size="100" fill="#262626">0</text>
<text transform="matrix(0.6894 0 0 0.5896 159.62 1152.65)" font-size="100" fill="#262626">1</text>
<text transform="matrix(0.6894 0 0 0.5896 160.56 1004.79)" font-size="100" fill="#262626">2</text>
<text transform="matrix(0.6894 0 0 0.5896 160.48 856.92)" font-size="100" fill="#262626">3</text>
<text transform="matrix(0.6894 0 0 0.5896 160.74 708.66)" font-size="100" fill="#262626">4</text>
<text transform="matrix(0.6894 0 0 0.5896 160.48 560.90)" font-size="100" fill="#262626">5</text>
<text transform="matrix(0.6894 0 0 0.5896 160.39 413.24)" font-size="100" fill="#262626">6</text>
<text transform="matrix(0.6894 0 0 0.5896 159.44 265.97)" font-size="100" fill="#262626">7</text>
<text transform="matrix(0.6894 0 0 0.5896 160.56 116.51)" font-size="100" fill="#262626">8</text>
<text transform="matrix(0.6918 0 0 0.5971 201.21 1358.90)" font-size="100" fill="#262626">0</text>
<text transform="matrix(0.6684 0 0 0.5971 508.09 1358.90)" font-size="100" fill="#262626">0.2</text>
<text transform="matrix(0.6684 0 0 0.5971 839.76 1358.90)" font-size="100" fill="#262626">0.4</text>
<text transform="matrix(0.6684 0 0 0.5971 1173.08 1358.90)" font-size="100" fill="#262626">0.6</text>
<text transform="matrix(0.6684 0 0 0.5971 1505.86 1358.90)" font-size="100" fill="#262626">0.8</text>
<text transform="matrix(0.6918 0 0 0.5971 1861.15 1358.90)" font-size="100" fill="#262626">1</text>
<text transform="matrix(0.6563 0 0 0.5894 220.33 88.94)" font-size="100" fill="#2e2e2e" class="x">×</text>
<text transform="matrix(0.6822 0 0 0.6015 273.34 83.20)" font-size="100" fill="#262626">10</text>
<text transform="matrix(0.5319 0 0 0.5156 342.34 54.70)" font-size="100" fill="#262626">4</text>
<text transform="matrix(1.0034 0 0 0.9056 980.93 1476.69)" font-size="100" fill="#262626">SSF</text>
<text transform="matrix(0 -0.8704 0.9798 0 100.28 1087.84)" font-size="100" fill="#262626">Number of pixels</text>
</g>
<text transform="matrix(0.6741 0 0 0.6060 513.82 179.79)" font-size="100" fill="#000">Re-LEE</text>
<text transform="matrix(0.6669 0 0 0.6038 512.83 251.15)" font-size="100" fill="#000">IDAN</text>
<text transform="matrix(0.6845 0 0 0.6092 513.63 322.60)" font-size="100" fill="#000">NLM</text>
<text transform="matrix(0.6943 0 0 0.6015 511.88 394.00)" font-size="100" fill="#000">JRP</text>
<text transform="matrix(0.6881 0 0 0.5978 511.90 465.40)" font-size="100" fill="#000">JSMC</text>
</svg></body></html>
